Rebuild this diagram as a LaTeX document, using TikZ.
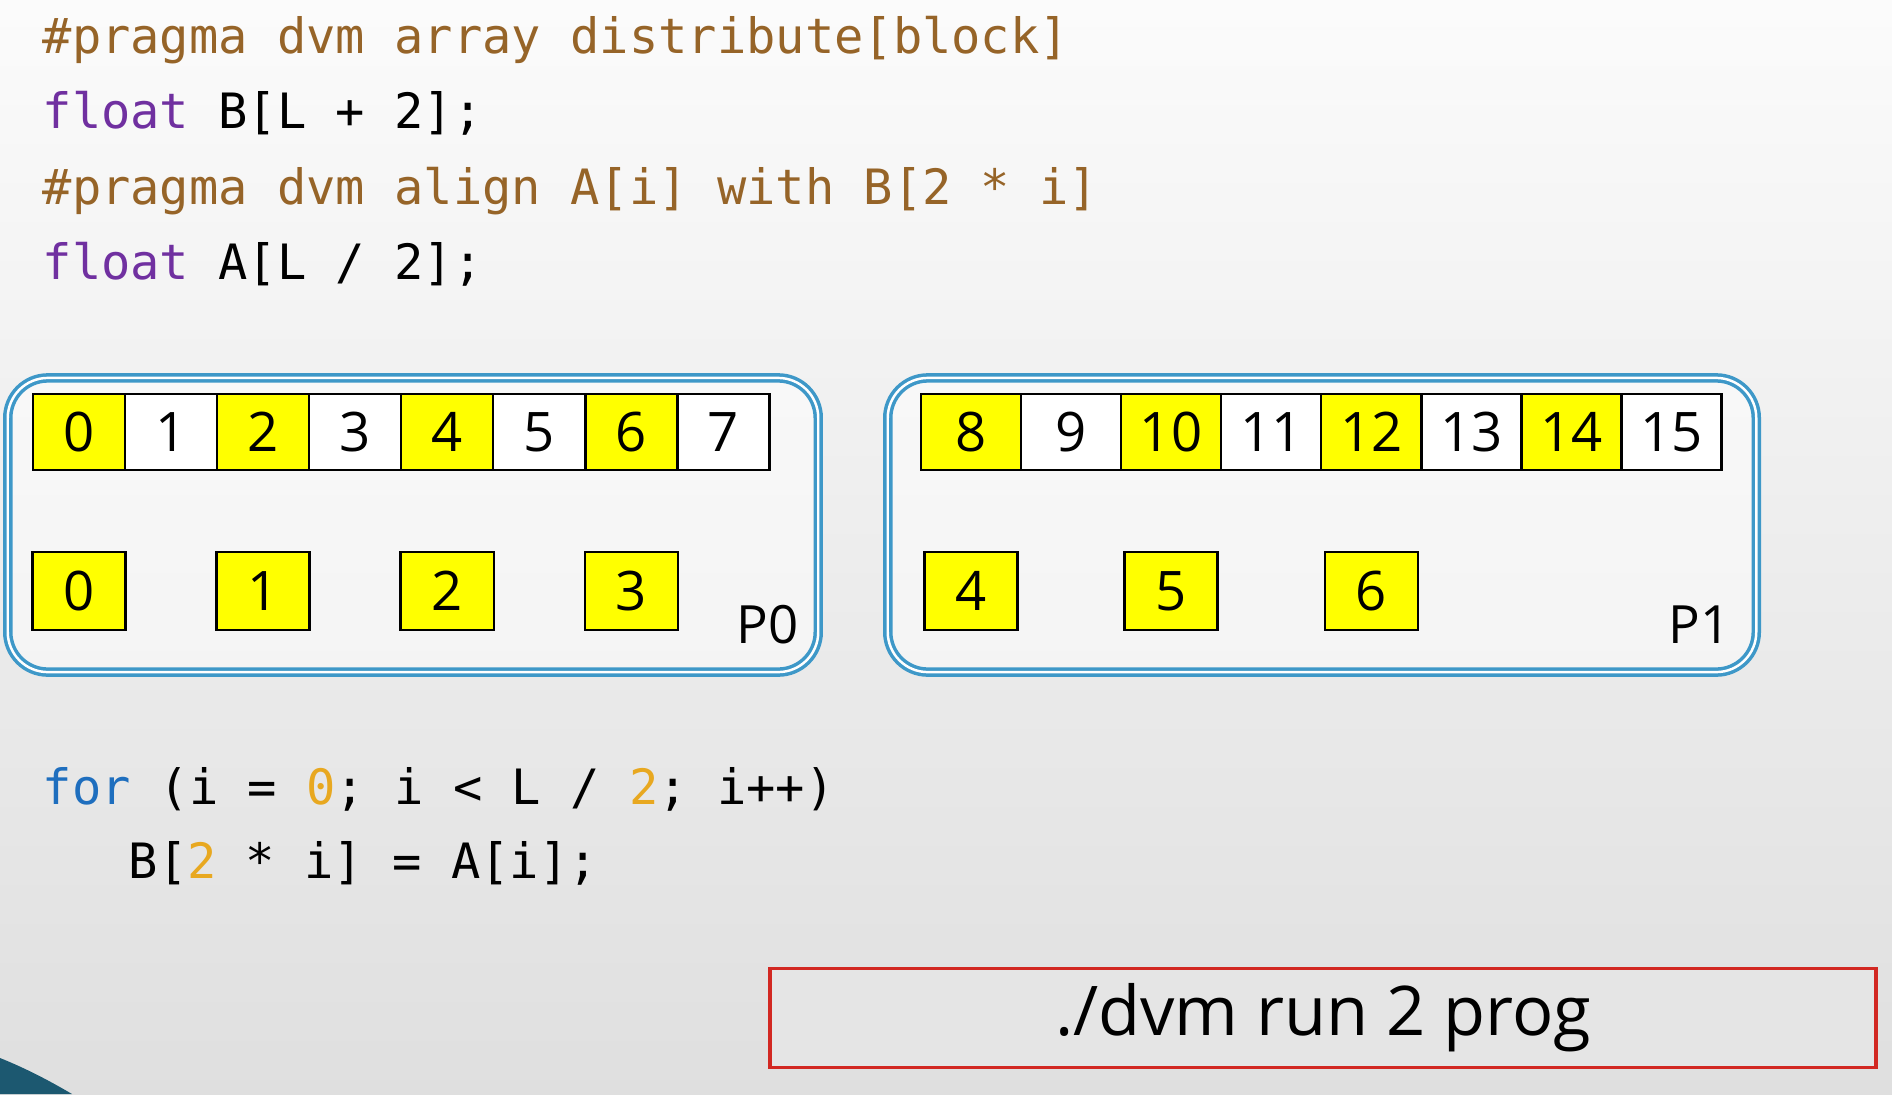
\documentclass[tikz,border=0pt]{standalone}
\usepackage{fontspec}
\setmainfont{Open Sans}
\newfontfamily\codefont{DejaVu Sans Mono}
\usetikzlibrary{positioning}
\definecolor{pragmabrown}{RGB}{150,100,40}
\definecolor{kwpurple}{RGB}{112,48,160}
\definecolor{kwblue}{RGB}{30,110,190}
\definecolor{numorange}{RGB}{232,168,32}
\definecolor{procblue}{RGB}{62,152,200}
\definecolor{runred}{RGB}{210,40,34}
\definecolor{cellyellow}{RGB}{255,255,0}
\definecolor{cornerteal}{RGB}{28,88,112}

\begin{document}
\begin{tikzpicture}[
    x=0.01cm, y=-0.01cm,
    code/.style={anchor=base west, inner sep=0pt, font=\codefont\fontsize{13.85}{16}\selectfont},
    bcell/.style={rectangle, draw, line width=0.7pt, outer sep=0pt, inner sep=0pt, minimum width=0.92cm, minimum height=0.76cm, font=\fontsize{15.5}{18}\selectfont},
    widecell/.style={bcell, minimum width=1.0cm},
    acell/.style={rectangle, draw, line width=0.7pt, fill=cellyellow, inner sep=0pt, minimum width=0.93cm, minimum height=0.78cm, font=\fontsize{15.5}{18}\selectfont},
    procbox/.style={rectangle, rounded corners=0.4cm, draw=procblue, line width=1pt, double=white, double distance=0.7pt, fill=white, fill opacity=0.5, minimum height=2.94cm},
    plabel/.style={anchor=base east, inner sep=0pt, font=\fontsize{15}{18}\selectfont},
    runbox/.style={rectangle, draw=runred, line width=1.1pt, fill=gray!20, minimum width=11.06cm, minimum height=0.99cm, font=\fontsize{19.5}{22}\selectfont}
  ]
    % Background
    \useasboundingbox (0,0) rectangle (1892,1094);
    \shade[top color=gray!3, bottom color=gray!25] (0,0) rectangle (1892,1094);
    \fill[cornerteal] (0,1058) .. controls (30,1070) and (55,1084) .. (72,1094) -- (0,1094) -- cycle;

    % Declarations
    \node[code, pragmabrown] (pragma1) at (42,54) {\#pragma dvm array distribute[block]};
    \node[code] (declb) at (42,129) {\textcolor{kwpurple}{float} B[L + 2];};
    \node[code, pragmabrown] (pragma2) at (42,204) {\#pragma dvm align A[i] with B[2 * i]};
    \node[code] (decla) at (42,279) {\textcolor{kwpurple}{float} A[L / 2];};

    % Processors
    \node[procbox, minimum width=8.1cm] (p0) at (413,525) {};
    \node[procbox, minimum width=8.68cm] (p1) at (1322,525) {};
    \node[plabel] (l0) at (799,643) {P0};
    \node[plabel] (l1) at (1731,643) {P1};

    % Array B
    \node[bcell, fill=cellyellow] (b0) at (79,432) {0};
    \foreach \i in {1,...,7} {
      \pgfmathtruncatemacro\prev{\i-1}
      \ifodd\i \def\cellfill{white}\else\def\cellfill{cellyellow}\fi
      \node[bcell, fill=\cellfill, right=0pt of b\prev] (b\i) {\i};
    }
    \node[widecell, fill=cellyellow] (b8) at (971,432) {8};
    \foreach \i in {9,...,15} {
      \pgfmathtruncatemacro\prev{\i-1}
      \ifodd\i \def\cellfill{white}\else\def\cellfill{cellyellow}\fi
      \node[widecell, fill=\cellfill, right=0pt of b\prev] (b\i) {\i};
    }

    % Array A, aligned with B[2*i]
    \coordinate (arow) at (0,591);
    \foreach \i in {0,...,6} {
      \pgfmathtruncatemacro\k{2*\i}
      \node[acell] (a\i) at (b\k |- arow) {\i};
    }

    % Loop
    \node[code] (forline) at (42,804) {\textcolor{kwblue}{for} (i = \textcolor{numorange}{0}; i < L / \textcolor{numorange}{2}; i++)};
    \node[code] (body) at (128,878) {B[\textcolor{numorange}{2} * i] = A[i];};

    % Run command
    \node[runbox] (run) at (1323,1018) {./dvm run 2 prog};
  \end{tikzpicture}
\end{document}
